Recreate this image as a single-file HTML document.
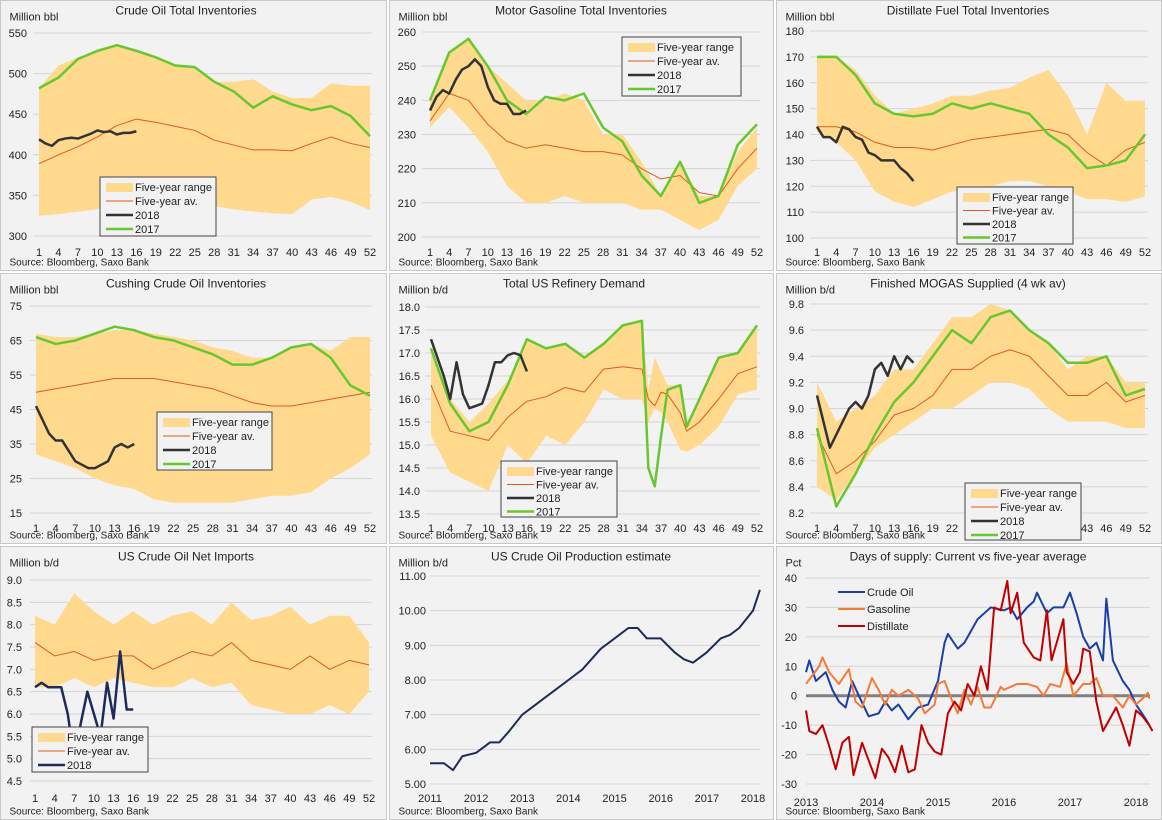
<!DOCTYPE html>
<html><head><meta charset="utf-8"><style>
body{margin:0;background:#fff;}
svg{display:block;font-family:"Liberation Sans",sans-serif;}
</style></head><body>
<svg id="c" width="1162" height="820" viewBox="0 0 1162 820" xmlns="http://www.w3.org/2000/svg"></svg>
<script>
// ---- data ----
const wk18 = [1,4,7,10,13,16,19,22,25,28,31,34,37,40,43,46,49,52];
const wk2018 = [1,2,3,4,5,6,7,8,9,10,11,12,13,14,15,16];
// crude
const crudeHi = [482,510,520,528,535,530,520,510,508,490,490,493,478,470,470,488,485,485];
const crudeLo = [325,327,330,333,345,345,345,345,342,337,333,330,328,327,345,348,342,332];
const crudeAvg = [389,400,410,422,436,444,440,435,430,418,412,406,406,405,414,422,414,409];
const crude2017 = [482,495,518,528,535,528,520,510,508,490,478,458,472,462,455,460,448,423];
const crude2018 = [419,414,411,418,420,421,420,423,426,430,428,429,425,427,427,429];
// gasoline
const gasHi = [240,254,258,250,245,240,240,242,240,230,230,222,212,222,212,212,225,232];
const gasLo = [232,238,232,225,215,210,210,212,210,210,210,208,208,205,202,205,215,220];
const gasAvg = [234,242,240,233,228,226,227,226,225,225,224,220,217,218,213,212,220,226];
const gas2017 = [240,254,258,250,240,236,241,240,242,232,228,218,212,222,210,212,227,233];
const gas2018 = [237,241,243,242,246,249,250,252,250,244,240,239,239,236,236,237];
// distillate
const distHi = [170,170,165,155,148,150,152,155,155,157,158,162,165,155,140,160,153,153];
const distLo = [141,137,130,118,114,112,115,118,118,120,122,122,120,118,115,115,114,116];
const distAvg = [143,143,141,137,135,135,134,136,138,139,140,141,142,140,133,128,134,137];
const dist2017 = [170,170,163,152,148,147,148,152,150,152,150,148,140,135,127,128,130,140];
const dist2018 = [143,139,139,137,143,142,139,138,133,132,130,130,130,127,125,122];
// cushing
const cushHi = [67,66,66,67,68,68,67,66,65,63,62,60,60,63,64,62,66,66];
const cushLo = [32,30,28,25,23,22,19,18,18,18,18,19,20,20,21,25,28,32];
const cushAvg = [50,51,52,53,54,54,54,53,52,51,49,47,46,46,47,48,49,50];
const cush2017 = [66,64,65,67,69,68,66,65,63,61,58,58,60,63,64,60,52,49];
const cush2018 = [46,42,38,36,36,33,30,29,28,28,29,30,34,35,34,35];
// refinery
const refWeeks = [1,4,7,10,13,16,19,22,25,28,31,34,35,36,37,38,40,41,43,46,49,52];
const ref2017 = [17.1,15.9,15.3,15.5,16.3,17.3,17.1,17.2,16.9,17.2,17.6,17.7,14.5,14.1,15.2,16.2,16.3,15.4,16.0,16.9,17.0,17.6];
const refHi = [17.1,16.0,15.5,15.9,16.4,17.3,17.1,17.2,16.9,17.2,17.6,17.7,16.2,16.9,16.6,16.3,16.3,15.4,16.0,16.9,17.0,17.6];
const refLo = [15.2,14.4,14.2,14.0,15.0,14.6,15.2,15.0,15.5,16.2,16.0,16.0,15.5,15.8,15.7,15.5,14.9,14.85,15.0,15.4,16.1,16.2];
const refAvg = [16.3,15.3,15.2,15.1,15.6,15.95,16.05,16.25,16.15,16.65,16.7,16.65,16.0,15.85,16.15,16.1,15.7,15.3,15.5,16.0,16.55,16.7];
const ref2018 = [17.3,16.9,16.5,16.0,16.8,16.1,15.8,15.85,15.9,16.3,16.8,16.8,16.95,17.0,16.95,16.6];
// mogas
const mogHi = [9.2,8.9,9.0,9.1,9.3,9.3,9.5,9.7,9.7,9.8,9.75,9.6,9.5,9.3,9.4,9.4,9.2,9.2];
const mogLo = [8.4,8.3,8.5,8.7,8.8,8.9,9.0,9.0,9.1,9.2,9.2,9.15,9.0,8.9,8.9,8.9,8.85,8.85];
const mogAvg = [8.8,8.5,8.6,8.75,8.95,9.0,9.1,9.3,9.3,9.4,9.45,9.4,9.25,9.1,9.1,9.2,9.05,9.1];
const mog2017 = [8.85,8.25,8.5,8.8,9.05,9.2,9.4,9.6,9.5,9.7,9.75,9.6,9.5,9.35,9.35,9.4,9.1,9.15];
const mog2018 = [9.1,8.9,8.7,8.8,8.9,9.0,9.05,9.0,9.1,9.3,9.35,9.25,9.4,9.3,9.4,9.35];
// net imports
const impHi = [8.2,8.0,8.7,8.3,8.0,8.3,8.0,8.2,8.3,8.0,8.5,8.1,8.2,8.4,8.0,8.2,8.2,7.6];
const impLo = [6.6,6.6,6.8,6.6,6.8,6.7,6.6,6.6,6.8,6.6,6.7,6.2,6.1,6.0,6.0,6.2,6.0,6.5];
const impAvg = [7.6,7.3,7.4,7.2,7.3,7.3,7.0,7.2,7.4,7.3,7.6,7.2,7.1,7.0,7.3,7.0,7.2,7.1];
const imp2018 = [6.6,6.7,6.6,6.6,6.6,6.0,5.0,5.8,6.5,6.0,5.5,6.7,5.9,7.4,6.1,6.1];
// production
const prodT = [2011.0,2011.3,2011.5,2011.7,2012.0,2012.3,2012.5,2012.7,2013.0,2013.3,2013.5,2013.7,2014.0,2014.3,2014.5,2014.7,2015.0,2015.3,2015.5,2015.7,2016.0,2016.3,2016.5,2016.7,2017.0,2017.3,2017.5,2017.7,2018.0,2018.15];
const prodV = [5.6,5.6,5.4,5.8,5.9,6.2,6.2,6.5,7.0,7.3,7.5,7.7,8.0,8.3,8.6,8.9,9.2,9.5,9.5,9.2,9.2,8.8,8.6,8.5,8.8,9.2,9.3,9.5,10.0,10.6];
// days of supply
const dosCrudeT = [2013.0,2013.05,2013.15,2013.3,2013.4,2013.5,2013.6,2013.7,2013.8,2013.95,2014.1,2014.2,2014.3,2014.4,2014.55,2014.7,2014.85,2015.0,2015.1,2015.15,2015.3,2015.4,2015.5,2015.6,2015.7,2015.8,2016.0,2016.1,2016.2,2016.35,2016.45,2016.5,2016.65,2016.75,2016.9,2017.0,2017.1,2017.2,2017.3,2017.4,2017.5,2017.55,2017.65,2017.8,2017.9,2018.0,2018.15,2018.2];
const dosCrudeV = [8,12,5,8,2,-2,-4,5,0,-7,-6,-2,-5,-3,-8,-4,-3,5,18,21,16,18,22,26,28,30,29,30,26,30,32,35,28,30,30,35,28,20,16,18,12,33,12,5,2,-3,-8,-10];
const dosGasT = [2013.0,2013.1,2013.2,2013.25,2013.35,2013.5,2013.65,2013.75,2013.85,2014.0,2014.1,2014.2,2014.3,2014.4,2014.55,2014.7,2014.8,2014.95,2015.0,2015.1,2015.2,2015.3,2015.4,2015.5,2015.6,2015.7,2015.8,2015.95,2016.0,2016.2,2016.35,2016.5,2016.6,2016.7,2016.85,2016.95,2017.05,2017.2,2017.3,2017.4,2017.5,2017.65,2017.8,2017.9,2018.0,2018.1,2018.18,2018.2];
const dosGasV = [4,7,10,13,8,4,9,-2,-4,6,2,-3,2,0,2,-1,-6,-3,4,5,-1,-6,2,-3,3,-4,-4,3,2,4,4,3,0,4,3,11,0,4,4,6,0,0,-4,0,-3,-1,1,-1];
const dosDistT = [2013.0,2013.05,2013.15,2013.25,2013.35,2013.45,2013.55,2013.65,2013.72,2013.85,2013.95,2014.05,2014.15,2014.25,2014.35,2014.45,2014.55,2014.65,2014.75,2014.85,2014.95,2015.05,2015.15,2015.25,2015.35,2015.45,2015.55,2015.65,2015.75,2015.85,2015.95,2016.05,2016.1,2016.2,2016.3,2016.45,2016.55,2016.65,2016.72,2016.85,2016.9,2016.95,2017.05,2017.15,2017.2,2017.3,2017.4,2017.5,2017.6,2017.7,2017.8,2017.9,2018.0,2018.1,2018.2,2018.25];
const dosDistV = [-5,-12,-13,-10,-17,-25,-16,-14,-27,-16,-22,-28,-18,-21,-26,-17,-26,-25,-10,-16,-19,-20,-6,-2,-5,4,0,10,2,30,29,39,28,35,18,13,12,29,12,22,26,8,4,8,16,15,-2,-12,-8,-4,-10,-17,-5,-7,-10,-12];
const weekTicks = [1,4,7,10,13,16,19,22,25,28,31,34,37,40,43,46,49,52];

// ---- drawing ----
const svg = document.getElementById('c');
const NS = 'http://www.w3.org/2000/svg';
function mk(tag, attrs, parent) { const e = document.createElementNS(NS, tag); for (const k in attrs) e.setAttribute(k, attrs[k]); (parent || svg).appendChild(e); return e; }
function txt(x, y, s, size, anchor, parent) { const t = mk('text', {x: x, y: y, 'font-size': size, 'text-anchor': anchor || 'start', fill: '#222'}, parent); t.textContent = s; return t; }

const BAND = '#ffd98e', AVG = '#e05a1c', C18 = '#333333', C17 = '#66c82e', NAVY = '#1c2b5a';

function panel(cfg) {
  const g = mk('g', {});
  
  
  const r = mk('rect', {x: cfg.bx, y: cfg.by, width: cfg.bw, height: cfg.bh, fill: '#f2f2f2', stroke: '#c8c8c8'}, g);
  
  
  const fmt = cfg.yfmt || (v => String(v));
  const X = v => cfg.x0 + (v - cfg.xmin) / (cfg.xmax - cfg.xmin) * (cfg.x1 - cfg.x0);
  const Y = v => cfg.yb + (v - cfg.ymin) / (cfg.ymax - cfg.ymin) * (cfg.yt - cfg.yb);
  cfg.yticks.forEach(v => {
    const l = mk('line', {x1: cfg.gx0, x2: cfg.gx1, y1: Y(v), y2: Y(v), stroke: '#d4d4d4', 'stroke-width': 1}, g);
    
    
    const t = txt(cfg.ylx, Y(v) + 4, fmt(v), 11, 'end', g);
    
    
  });
  cfg.xticks.forEach(v => {
    const t = txt(X(v), cfg.xly, String(v), 11, 'middle', g);
    
    
  });
  const ti = txt(cfg.tx, cfg.by + 14, cfg.title, 12, 'middle', g);
  
  
  const yl = txt(cfg.bx + 9, cfg.by + 20, cfg.unit, 11, 'start', g);
  
  
  const so = txt(cfg.bx + 9, cfg.by + cfg.bh - 5, 'Source: Bloomberg, Saxo Bank', 10, 'start', g);
  
  
  if (cfg.band) {
    const xs = cfg.band.x, hi = cfg.band.hi, lo = cfg.band.lo;
    let d = xs.map((v, i) => (i ? 'L' : 'M') + X(v) + ',' + Y(hi[i])).join('');
    for (let i = xs.length - 1; i >= 0; i--) d += 'L' + X(xs[i]) + ',' + Y(lo[i]);
    const p = mk('path', {d: d + 'Z', fill: BAND}, g);
    
    
  }
  if (cfg.zero) {
    const z = mk('line', {x1: cfg.gx0, x2: cfg.gx1, y1: Y(0), y2: Y(0), stroke: '#808080', 'stroke-width': 3}, g);
    
    
  }
  cfg.lines.forEach(s => {
    const d = s.x.map((v, i) => (i ? 'L' : 'M') + X(v) + ',' + Y(s.y[i])).join('');
    const p = mk('path', {d: d, fill: 'none', stroke: s.c, 'stroke-width': s.w, 'stroke-linejoin': 'round'}, g);
    
    
  });
  if (cfg.legend) {
    const L = cfg.legend;
    const lg = mk('g', {}, g);
    
    
    if (L.box) mk('rect', {x: L.x, y: L.y, width: L.w, height: L.h, fill: '#f2f2f2', stroke: '#444', 'stroke-width': 1}, lg);
    L.items.forEach((it, i) => {
      const yy = L.y + 10 + i * L.dy;
      if (it.band) mk('rect', {x: L.x + 6, y: yy - 4, width: 27, height: 9, fill: BAND}, lg);
      else mk('line', {x1: L.x + 6, x2: L.x + 33, y1: yy, y2: yy, stroke: it.c, 'stroke-width': it.w}, lg);
      const t = txt(L.x + 35, yy + 4, it.label, 11, 'start', lg);
      
      
    });
  }
}

const legend4 = [{band: true, label: 'Five-year range'}, {c: AVG, w: 1, label: 'Five-year av.'}, {c: C18, w: 2.5, label: '2018'}, {c: C17, w: 2.5, label: '2017'}];
function std(o) {
  return Object.assign({xmin: 1, xmax: 52, xticks: weekTicks, yfmt: v => String(v)}, o);
}
function weekly(hi, lo, avg, l17, l18, wx) {
  wx = wx || wk18;
  const ls = [{x: wx, y: avg, c: AVG, w: 1, name: 'five-year-average-line'}];
  if (l17) ls.push({x: wx, y: l17, c: C17, w: 2.5, name: 'line-2017'});
  ls.push({x: wk2018, y: l18, c: l17 ? C18 : NAVY, w: 2.5, name: 'line-2018'});
  return {band: {x: wx, hi: hi, lo: lo}, lines: ls};
}

panel(Object.assign(std({name: 'crude-oil-inventories-chart', bx: 0.5, by: 0.5, bw: 386, bh: 270, x0: 39, x1: 370, gx0: 33, gx1: 372, yt: 33, yb: 236, ymin: 300, ymax: 550, yticks: [300,350,400,450,500,550], ylx: 27, xly: 256, tx: 186, title: 'Crude Oil Total Inventories', unit: 'Million bbl',
  legend: {box: true, x: 100, y: 177, w: 116, h: 59, dy: 14, items: legend4}}), weekly(crudeHi, crudeLo, crudeAvg, crude2017, crude2018)));
panel(Object.assign(std({name: 'gasoline-inventories-chart', bx: 389.5, by: 0.5, bw: 384, bh: 270, x0: 430, x1: 757, gx0: 422, gx1: 760, yt: 32, yb: 237, ymin: 200, ymax: 260, yticks: [200,210,220,230,240,250,260], ylx: 416, xly: 256, tx: 581, title: 'Motor Gasoline Total Inventories', unit: 'Million bbl',
  legend: {box: true, x: 622, y: 37, w: 119, h: 59, dy: 14, items: legend4}}), weekly(gasHi, gasLo, gasAvg, gas2017, gas2018)));
panel(Object.assign(std({name: 'distillate-inventories-chart', bx: 776.5, by: 0.5, bw: 385, bh: 270, x0: 817, x1: 1145, gx0: 810, gx1: 1148, yt: 31, yb: 238, ymin: 100, ymax: 180, yticks: [100,110,120,130,140,150,160,170,180], ylx: 804, xly: 256, tx: 968, title: 'Distillate Fuel Total Inventories', unit: 'Million bbl',
  legend: {box: true, x: 957, y: 187, w: 116, h: 57, dy: 13.5, items: legend4}}), weekly(distHi, distLo, distAvg, dist2017, dist2018)));
panel(Object.assign(std({name: 'cushing-inventories-chart', bx: 0.5, by: 273.5, bw: 386, bh: 270, x0: 36, x1: 370, gx0: 30, gx1: 372, yt: 306, yb: 513, ymin: 15, ymax: 75, yticks: [15,25,35,45,55,65,75], ylx: 22, xly: 532, tx: 186, title: 'Cushing Crude Oil Inventories', unit: 'Million bbl',
  legend: {box: true, x: 157, y: 412, w: 115, h: 58, dy: 14, items: legend4}}), weekly(cushHi, cushLo, cushAvg, cush2017, cush2018)));
panel(Object.assign(std({name: 'refinery-demand-chart', bx: 389.5, by: 273.5, bw: 384, bh: 270, x0: 431, x1: 757, gx0: 425, gx1: 760, yt: 307, yb: 514, ymin: 13.5, ymax: 18, yticks: [13.5,14,14.5,15,15.5,16,16.5,17,17.5,18], yfmt: v => v.toFixed(1), ylx: 420, xly: 532, tx: 574, title: 'Total US Refinery Demand', unit: 'Million b/d',
  legend: {box: true, x: 501, y: 461, w: 116, h: 56, dy: 13.5, items: legend4}}), weekly(refHi, refLo, refAvg, ref2017, ref2018, refWeeks)));
panel(Object.assign(std({name: 'mogas-supplied-chart', bx: 776.5, by: 273.5, bw: 385, bh: 270, x0: 817, x1: 1145, gx0: 810, gx1: 1148, yt: 304, yb: 513, ymin: 8.2, ymax: 9.8, yticks: [8.2,8.4,8.6,8.8,9,9.2,9.4,9.6,9.8], yfmt: v => v.toFixed(1), ylx: 804, xly: 532, tx: 968, title: 'Finished MOGAS Supplied (4 wk av)', unit: 'Million b/d',
  legend: {box: true, x: 965, y: 483, w: 116, h: 57, dy: 14, items: legend4}}), weekly(mogHi, mogLo, mogAvg, mog2017, mog2018)));
panel(Object.assign(std({name: 'net-imports-chart', bx: 0.5, by: 546.5, bw: 386, bh: 273, x0: 35, x1: 369, gx0: 30, gx1: 372, yt: 580, yb: 781, ymin: 4.5, ymax: 9, yticks: [4.5,5,5.5,6,6.5,7,7.5,8,8.5,9], yfmt: v => v.toFixed(1), ylx: 22, xly: 802, tx: 186, title: 'US Crude Oil Net Imports', unit: 'Million b/d',
  legend: {box: true, x: 32, y: 727, w: 116, h: 45, dy: 14, items: [legend4[0], legend4[1], {c: NAVY, w: 2.5, label: '2018'}]}}), weekly(impHi, impLo, impAvg, null, imp2018)));
panel({name: 'crude-production-chart', bx: 389.5, by: 546.5, bw: 384, bh: 273, x0: 430, x1: 753, gx0: 430, gx1: 760, xmin: 2011, xmax: 2018, xticks: [2011,2012,2013,2014,2015,2016,2017,2018], yt: 576, yb: 784, ymin: 5, ymax: 11, yticks: [5,6,7,8,9,10,11], yfmt: v => v.toFixed(2), ylx: 426, xly: 802, tx: 581, title: 'US Crude Oil Production  estimate', unit: 'Million b/d',
  lines: [{x: prodT, y: prodV, c: NAVY, w: 2, name: 'production-line'}]});
panel({name: 'days-of-supply-chart', bx: 776.5, by: 546.5, bw: 385, bh: 273, x0: 806, x1: 1136, gx0: 806, gx1: 1150, xmin: 2013, xmax: 2018, xticks: [2013,2014,2015,2016,2017,2018], yt: 578, yb: 784, ymin: -30, ymax: 40, yticks: [-30,-20,-10,0,10,20,30,40], yfmt: v => String(v), ylx: 797, xly: 806, tx: 968, title: 'Days of supply: Current vs five-year average', unit: 'Pct', zero: true,
  lines: [{x: dosCrudeT, y: dosCrudeV, c: '#1a3fa8', w: 2, name: 'crude-oil-line'}, {x: dosGasT, y: dosGasV, c: '#f47b3a', w: 2, name: 'gasoline-line'}, {x: dosDistT, y: dosDistV, c: '#c00000', w: 2, name: 'distillate-line'}],
  legend: {box: false, x: 832, y: 582, dy: 17, items: [{c: '#1a3fa8', w: 2, label: 'Crude Oil'}, {c: '#f47b3a', w: 2, label: 'Gasoline'}, {c: '#c00000', w: 2, label: 'Distillate'}]}});
</script>
</body></html>
